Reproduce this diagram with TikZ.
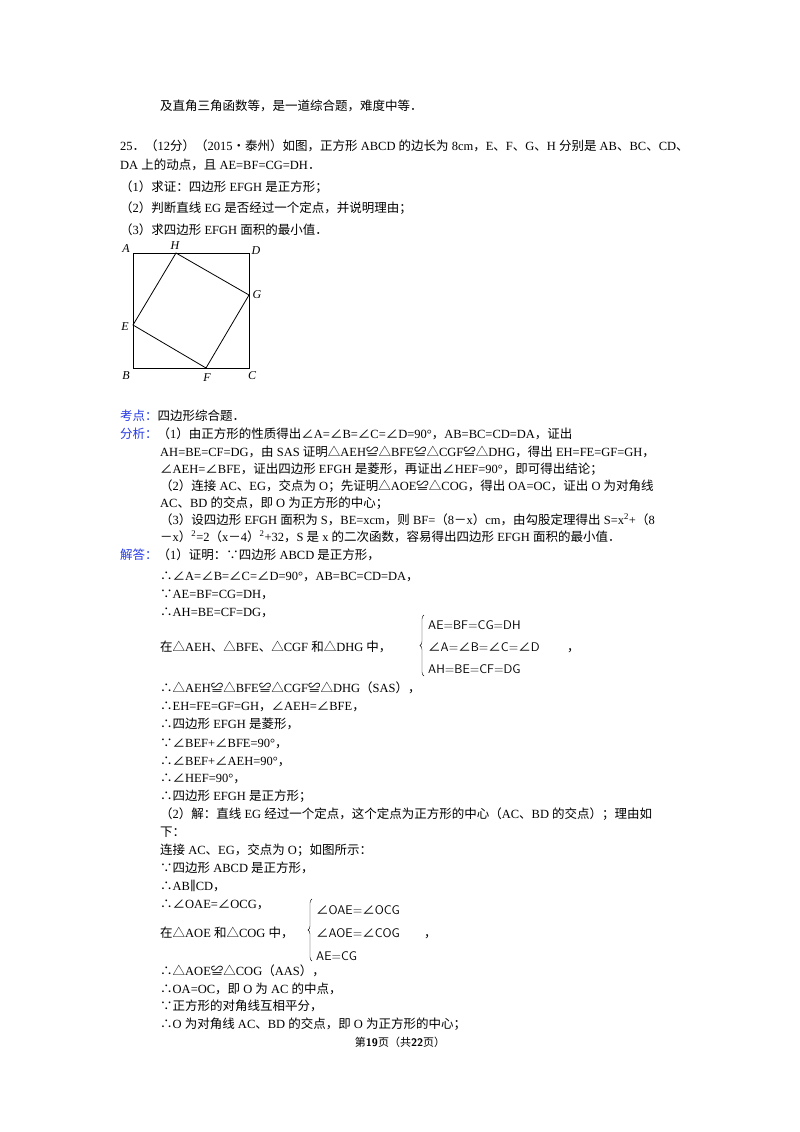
\documentclass[tikz,border=0pt]{standalone}
\usepackage{fontspec}
\usetikzlibrary{decorations.pathreplacing}
\setmainfont{Liberation Serif}
\newfontfamily\cjk{Noto Sans CJK SC}
\newfontfamily\djvfont{DejaVu Serif}
\XeTeXinterchartokenstate=1
\newXeTeXintercharclass\cjkclass
\newcount\cc
\def\setrange#1#2{\cc=#1 \loop \XeTeXcharclass\cc=\cjkclass \advance\cc 1 \ifnum\cc<#2 \repeat}
\setrange{"4E00}{"A000}
\setrange{"3000}{"3040}
\setrange{"FF00}{"FFF0}
\setrange{"2234}{"2236}
\XeTeXcharclass"2220=\cjkclass
\XeTeXcharclass"25B3=\cjkclass
\XeTeXcharclass"224C=\cjkclass
\XeTeXcharclass"2022=\cjkclass
\def\mylatin{\rmfamily}
\XeTeXinterchartoks 0 \cjkclass={\cjk}
\XeTeXinterchartoks 4095 \cjkclass={\cjk}
\XeTeXinterchartoks \cjkclass 0={\mylatin}
\XeTeXinterchartoks \cjkclass 4095={\mylatin}
\definecolor{lab}{RGB}{40,60,230}
\tikzset{t/.style={anchor=base west,inner sep=0pt,font=\fontsize{12.5}{14}\selectfont},
 fl/.style={anchor=center,inner sep=0pt,font=\fontsize{12}{14}\selectfont\itshape},
 bl/.style={t,font=\fontsize{12.5}{14}\selectfont\def\mylatin{\sffamily}\sffamily}}
\begin{document}
\begin{tikzpicture}[x=1pt,y=-1pt]
\useasboundingbox[fill=white] (0,0) rectangle (800,1132);
\node[t] (l0) at (160,110) {及直角三角函数等，是一道综合题，难度中等．};
\node[t] (l1) at (120,150) {25．（12分）（2015•泰州）如图，正方形 ABCD 的边长为 8cm，E、F、G、H 分别是 AB、BC、CD、};
\node[t] (l2) at (120,169) {DA 上的动点，且 AE=BF=CG=DH．};
\node[t] (l3) at (120,191) {（1）求证：四边形 EFGH 是正方形；};
\node[t] (l4) at (120,212) {（2）判断直线 EG 是否经过一个定点，并说明理由；};
\node[t] (l5) at (120,234) {（3）求四边形 EFGH 面积的最小值．};
% figure
\coordinate (A) at (133,253); \coordinate (D) at (249,253);
\coordinate (B) at (133,368); \coordinate (C) at (249,368);
\coordinate (H) at (176,253); \coordinate (G) at (249,295);
\coordinate (E) at (133,325); \coordinate (F) at (206,368);
\draw[line width=0.8pt] (A)--(D)--(C)--(B)--cycle;
\draw[line width=0.8pt] (E)--(F)--(G)--(H)--cycle;
\node[fl] (nA) at (126,249) {A}; \node[fl] (nH) at (175,246) {H};
\node[fl] (nD) at (256,251) {D}; \node[fl] (nG) at (257,295) {G};
\node[fl] (nE) at (125,327) {E}; \node[fl] (nB) at (126,376) {B};
\node[fl] (nF) at (207,378) {F}; \node[fl] (nC) at (252,376) {C};
% analysis
\node[t] (k) at (120,420) {\textcolor{lab}{考点：}四边形综合题．};
\node[t] (f1) at (120,438) {\textcolor{lab}{分析：}（1）由正方形的性质得出∠A=∠B=∠C=∠D=90°，AB=BC=CD=DA，证出};
\node[t] (f2) at (160,456) {AH=BE=CF=DG，由 SAS 证明△AEH≌△BFE≌△CGF≌△DHG，得出 EH=FE=GF=GH，};
\node[t] (f3) at (160,473) {∠AEH=∠BFE，证出四边形 EFGH 是菱形，再证出∠HEF=90°，即可得出结论；};
\node[t] (f4) at (160,490) {（2）连接 AC、EG，交点为 O；先证明△AOE≌△COG，得出 OA=OC，证出 O 为对角线};
\node[t] (f5) at (160,507) {AC、BD 的交点，即 O 为正方形的中心；};
\node[t] (f6) at (160,524) {（3）设四边形 EFGH 面积为 S，BE=xcm，则 BF=（8－x）cm，由勾股定理得出 S=x\textsuperscript{2}+（8};
\node[t] (f7) at (160,541) {－x）\textsuperscript{2}=2（x－4）\textsuperscript{2}+32，S 是 x 的二次函数，容易得出四边形 EFGH 面积的最小值．};
% answer
\node[t] (a1) at (120,559) {\textcolor{lab}{解答：}（1）证明：∵四边形 ABCD 是正方形，};
\node[t] (a2) at (160,580) {∴∠A=∠B=∠C=∠D=90°，AB=BC=CD=DA，};
\node[t] (a3) at (160,598) {∵AE=BF=CG=DH，};
\node[t] (a4) at (160,616) {∴AH=BE=CF=DG，};
\node[t] (a5) at (160,651) {在△AEH、△BFE、△CGF 和△DHG 中，};
\draw[decorate,decoration={brace,amplitude=4pt}] (424,676)--(424,615);
\node[bl] (b1) at (428,629) {AE=BF=CG=DH};
\node[bl] (b2) at (428,651) {∠A=∠B=∠C=∠D};
\node[bl] (b3) at (428,673) {AH=BE=CF=DG};
\node[t] (bc) at (567,651) {，};
\node[t] (a6) at (160,692) {∴△AEH≌△BFE≌△CGF≌△DHG（SAS），};
\node[t] (a7) at (160,710) {∴EH=FE=GF=GH，∠AEH=∠BFE，};
\node[t] (a8) at (160,728) {∴四边形 EFGH 是菱形，};
\node[t] (a9) at (160,747) {∵∠BEF+∠BFE=90°，};
\node[t] (a10) at (160,765) {∴∠BEF+∠AEH=90°，};
\node[t] (a11) at (160,782) {∴∠HEF=90°，};
\node[t] (a12) at (160,800) {∴四边形 EFGH 是正方形；};
\node[t] (a13) at (160,818) {（2）解：直线 EG 经过一个定点，这个定点为正方形的中心（AC、BD 的交点）；理由如};
\node[t] (a14) at (160,836) {下：};
\node[t] (a15) at (160,854) {连接 AC、EG，交点为 O；如图所示：};
\node[t] (a16) at (160,872) {∵四边形 ABCD 是正方形，};
\node[t] (a17) at (160,890) {∴AB{\djvfont ∥}CD，};
\node[t] (a18) at (160,908) {∴∠OAE=∠OCG，};
\node[t] (a19) at (160,937) {在△AOE 和△COG 中，};
\draw[decorate,decoration={brace,amplitude=4pt}] (312,961)--(312,899);
\node[bl] (c1) at (316,914) {∠OAE=∠OCG};
\node[bl] (c2) at (316,937) {∠AOE=∠COG};
\node[bl] (c3) at (316,960) {AE=CG};
\node[t] (cc) at (424,937) {，};
\node[t] (a20) at (160,975) {∴△AOE≌△COG（AAS），};
\node[t] (a21) at (160,993) {∴OA=OC，即 O 为 AC 的中点，};
\node[t] (a22) at (160,1010) {∵正方形的对角线互相平分，};
\node[t] (a23) at (160,1028) {∴O 为对角线 AC、BD 的交点，即 O 为正方形的中心；};
\node[anchor=base,inner sep=0pt,font=\fontsize{11}{13}\selectfont] (foot) at (400,1046) {第\textbf{\sffamily 19}页（共\textbf{\sffamily 22}页）};
\end{tikzpicture}
\end{document}
